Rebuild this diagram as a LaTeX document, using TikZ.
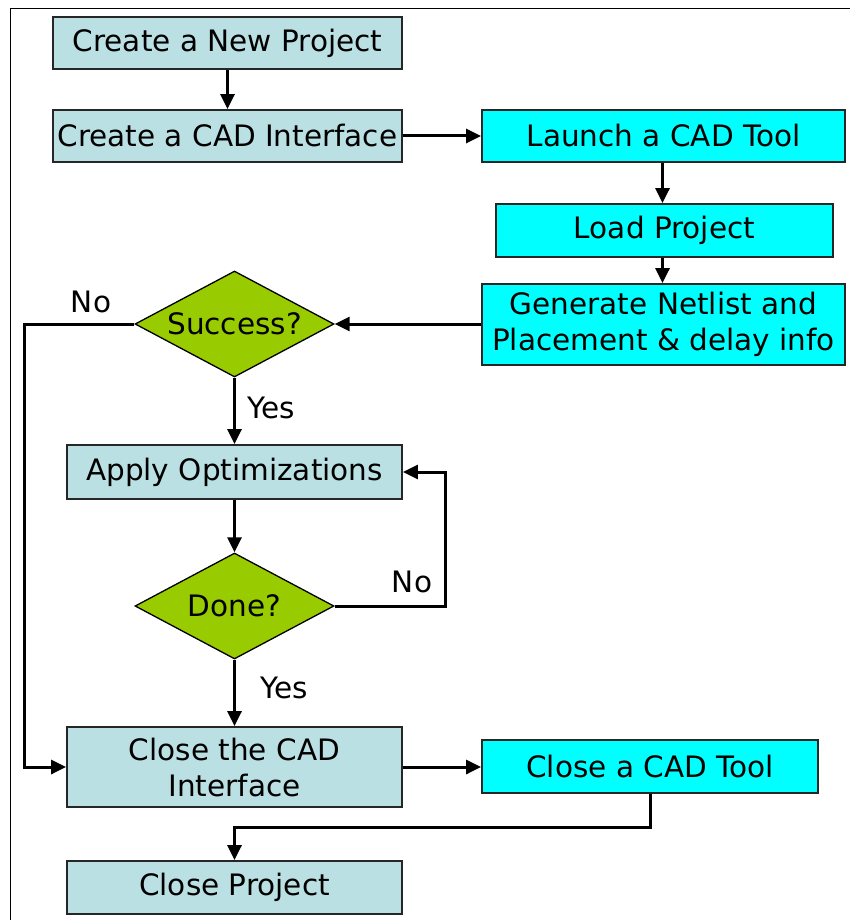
\documentclass[tikz,border=0pt]{standalone}
\usepackage{fontspec}
\setmainfont{DejaVu Sans}
\usetikzlibrary{shapes.geometric,arrows.meta}
\definecolor{paleblue}{HTML}{BAE0E3}
\definecolor{brightcyan}{HTML}{00FFFF}
\definecolor{leafgreen}{HTML}{99CC00}
\begin{document}
\begin{tikzpicture}[x=1pt,y=1pt,
  font=\fontsize{29.5}{36}\selectfont,
  box/.style={draw=black!85,line width=1.8pt,rectangle,inner sep=0pt,align=center},
  softbox/.style={box,fill=paleblue},
  cyanbox/.style={box,fill=brightcyan},
  decision/.style={draw=black,line width=1.3pt,diamond,aspect=1.88,fill=leafgreen,inner sep=0pt,
    minimum width=199pt,minimum height=106pt},
  flow/.style={line width=3pt,-{Triangle[length=15pt,width=14pt]}},
  tag/.style={inner sep=0pt}]
\useasboundingbox (0,0) rectangle (850,-920);
\draw[line width=1.6pt] (10.5,-1000) -- (10.5,-8.5) -- (900,-8.5);

\node[softbox,minimum width=349pt,minimum height=52pt] (np) at (227.5,-43) {Create a New Project};
\node[softbox,minimum width=349pt,minimum height=52pt] (ci) at (227.5,-136) {Create a CAD Interface};
\node[cyanbox,minimum width=363pt,minimum height=52pt] (lt) at (663.5,-136) {Launch a CAD Tool};
\node[cyanbox,minimum width=337pt,minimum height=53pt] (lp) at (664.5,-230.5) {Load Project};
\node[cyanbox,minimum width=363pt,minimum height=81pt] (gn) at (663.5,-324.5) {Generate Netlist and\\Placement \& delay info};
\node[decision] (sc) at (234.5,-324) {Success?};
\node[softbox,minimum width=335pt,minimum height=54pt] (ao) at (234.5,-472) {Apply Optimizations};
\node[decision] (dn) at (234.5,-606) {Done?};
\node[softbox,minimum width=335pt,minimum height=80pt] (cc) at (234.5,-767) {Close the CAD\\Interface};
\node[cyanbox,minimum width=336pt,minimum height=53pt] (ct) at (650,-766.5) {Close a CAD Tool};
\node[softbox,minimum width=335pt,minimum height=53pt] (cp) at (234.5,-887.5) {Close Project};

\coordinate (noleft) at (24,-324);
\coordinate (noright) at (445,-606);
\coordinate (bend) at (650,-827);

\draw[flow] (np) -- (ci);
\draw[flow] (ci) -- (lt);
\draw[flow] ([xshift=-1pt]lt.south) -- ([xshift=-2pt]lp.north);
\draw[flow] ([xshift=-2pt]lp.south) -- ([xshift=-2pt]lp.south |- gn.north);
\draw[flow] (gn.west |- sc.east) -- (sc.east);
\draw[flow] (sc.west) -- (noleft) |- (cc.west);
\draw[flow] (sc) -- (ao);
\draw[flow] (ao) -- (dn);
\draw[flow] (dn.east) -- (noright) |- (ao.east);
\draw[flow] (dn) -- (cc);
\draw[flow] (cc.east) -- (cc.east -| ct.west);
\draw[flow] (ct.south) -- (bend) -| (cp.north);

\node[tag] (lno1) at (91,-302) {No};
\node[tag] (lyes1) at (271,-408) {Yes};
\node[tag] (lno2) at (412,-582) {No};
\node[tag] (lyes2) at (284,-688) {Yes};
\end{tikzpicture}
\end{document}
